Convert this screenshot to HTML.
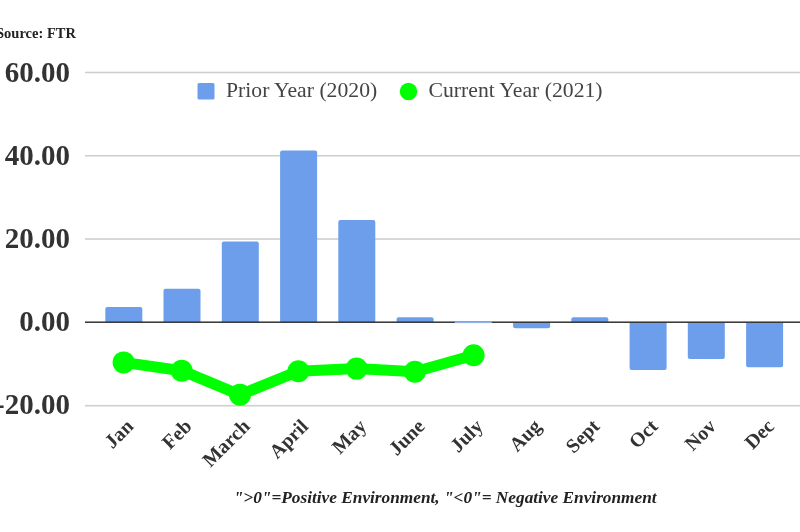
<!DOCTYPE html>
<html><head><meta charset="utf-8"><style>
html,body{margin:0;padding:0;background:#fff;}
body{width:800px;height:532px;overflow:hidden;font-family:"Liberation Serif",serif;}
svg{display:block;filter:blur(0.45px);}
text{font-family:"Liberation Serif",serif;}
</style></head><body>
<svg width="800" height="532" viewBox="0 0 800 532">
<rect width="800" height="532" fill="#fff"/>

<rect x="85" y="71.7" width="715" height="1.6" fill="#cfcfcf"/>
<rect x="85" y="154.95" width="715" height="1.6" fill="#cfcfcf"/>
<rect x="85" y="238.2" width="715" height="1.6" fill="#cfcfcf"/>
<rect x="85" y="404.9" width="715" height="1.6" fill="#cfcfcf"/>
<path d="M105.3,322.2 V309.0 Q105.3,307.0 107.3,307.0 H140.3 Q142.3,307.0 142.3,309.0 V322.2 Z" fill="#6d9eeb"/>
<path d="M163.5,322.2 V290.7 Q163.5,288.7 165.5,288.7 H198.5 Q200.5,288.7 200.5,290.7 V322.2 Z" fill="#6d9eeb"/>
<path d="M221.8,322.2 V243.5 Q221.8,241.5 223.8,241.5 H256.8 Q258.8,241.5 258.8,243.5 V322.2 Z" fill="#6d9eeb"/>
<path d="M280.1,322.2 V152.5 Q280.1,150.5 282.1,150.5 H315.1 Q317.1,150.5 317.1,152.5 V322.2 Z" fill="#6d9eeb"/>
<path d="M338.3,322.2 V222.0 Q338.3,220.0 340.3,220.0 H373.3 Q375.3,220.0 375.3,222.0 V322.2 Z" fill="#6d9eeb"/>
<path d="M396.6,322.2 V319.2 Q396.6,317.2 398.6,317.2 H431.6 Q433.6,317.2 433.6,319.2 V322.2 Z" fill="#6d9eeb"/>
<path d="M513.1,322.2 V326.3 Q513.1,328.3 515.1,328.3 H548.1 Q550.1,328.3 550.1,326.3 V322.2 Z" fill="#6d9eeb"/>
<path d="M571.3,322.2 V319.2 Q571.3,317.2 573.3,317.2 H606.3 Q608.3,317.2 608.3,319.2 V322.2 Z" fill="#6d9eeb"/>
<path d="M629.6,322.2 V367.9 Q629.6,369.9 631.6,369.9 H664.6 Q666.6,369.9 666.6,367.9 V322.2 Z" fill="#6d9eeb"/>
<path d="M687.8,322.2 V356.9 Q687.8,358.9 689.8,358.9 H722.8 Q724.8,358.9 724.8,356.9 V322.2 Z" fill="#6d9eeb"/>
<path d="M746.1,322.2 V365.2 Q746.1,367.2 748.1,367.2 H781.1 Q783.1,367.2 783.1,365.2 V322.2 Z" fill="#6d9eeb"/>
<rect x="85" y="321.45" width="715" height="1.5" fill="#333"/>
<rect x="454.8" y="321.3" width="37" height="1.8" fill="#8fb0e8"/>
<polyline points="123.6,362.4 181.7,370.7 240,394.8 298.4,371.2 356.6,368.6 414.9,371.8 473.6,355.3" fill="none" stroke="#00ff00" stroke-width="11" stroke-linejoin="round" stroke-linecap="round"/>
<circle cx="123.6" cy="362.4" r="11" fill="#00ff00"/>
<circle cx="181.7" cy="370.7" r="11" fill="#00ff00"/>
<circle cx="240" cy="394.8" r="11" fill="#00ff00"/>
<circle cx="298.4" cy="371.2" r="11" fill="#00ff00"/>
<circle cx="356.6" cy="368.6" r="11" fill="#00ff00"/>
<circle cx="414.9" cy="371.8" r="11" fill="#00ff00"/>
<circle cx="473.6" cy="355.3" r="11" fill="#00ff00"/>
<text x="70" y="81.5" font-size="29" font-weight="bold" text-anchor="end" fill="#333">60.00</text>
<text x="70" y="164.5" font-size="29" font-weight="bold" text-anchor="end" fill="#333">40.00</text>
<text x="70" y="247.5" font-size="29" font-weight="bold" text-anchor="end" fill="#333">20.00</text>
<text x="70" y="330.5" font-size="29" font-weight="bold" text-anchor="end" fill="#333">0.00</text>
<text x="70" y="413.5" font-size="29" font-weight="bold" text-anchor="end" fill="#333">-20.00</text>
<text transform="translate(134.6,427.5) rotate(-45)" font-size="20" font-weight="bold" text-anchor="end" fill="#333">Jan</text>
<text transform="translate(192.8,427.5) rotate(-45)" font-size="20" font-weight="bold" text-anchor="end" fill="#333">Feb</text>
<text transform="translate(251.1,427.5) rotate(-45)" font-size="20" font-weight="bold" text-anchor="end" fill="#333">March</text>
<text transform="translate(309.4,427.5) rotate(-45)" font-size="20" font-weight="bold" text-anchor="end" fill="#333">April</text>
<text transform="translate(367.6,427.5) rotate(-45)" font-size="20" font-weight="bold" text-anchor="end" fill="#333">May</text>
<text transform="translate(425.9,427.5) rotate(-45)" font-size="20" font-weight="bold" text-anchor="end" fill="#333">June</text>
<text transform="translate(484.1,427.5) rotate(-45)" font-size="20" font-weight="bold" text-anchor="end" fill="#333">July</text>
<text transform="translate(542.4,427.5) rotate(-45)" font-size="20" font-weight="bold" text-anchor="end" fill="#333">Aug</text>
<text transform="translate(600.6,427.5) rotate(-45)" font-size="20" font-weight="bold" text-anchor="end" fill="#333">Sept</text>
<text transform="translate(658.9,427.5) rotate(-45)" font-size="20" font-weight="bold" text-anchor="end" fill="#333">Oct</text>
<text transform="translate(717.1,427.5) rotate(-45)" font-size="20" font-weight="bold" text-anchor="end" fill="#333">Nov</text>
<text transform="translate(775.4,427.5) rotate(-45)" font-size="20" font-weight="bold" text-anchor="end" fill="#333">Dec</text>
<rect x="197.5" y="83" width="17" height="16.5" rx="1.5" fill="#6d9eeb"/>
<text x="226" y="97.4" font-size="21.7" fill="#444">Prior Year (2020)</text>
<circle cx="408.5" cy="91.5" r="8.7" fill="#00ff00"/>
<text x="428.5" y="97.4" font-size="21.7" fill="#444">Current Year (2021)</text>
<text x="-4" y="38" font-size="14.5" font-weight="bold" fill="#222">Source: FTR</text>
<text x="445.2" y="502.7" font-size="17.3" font-weight="bold" font-style="italic" text-anchor="middle" fill="#222">&quot;&gt;0&quot;=Positive Environment, &quot;&lt;0&quot;= Negative Environment</text>
</svg></body></html>
